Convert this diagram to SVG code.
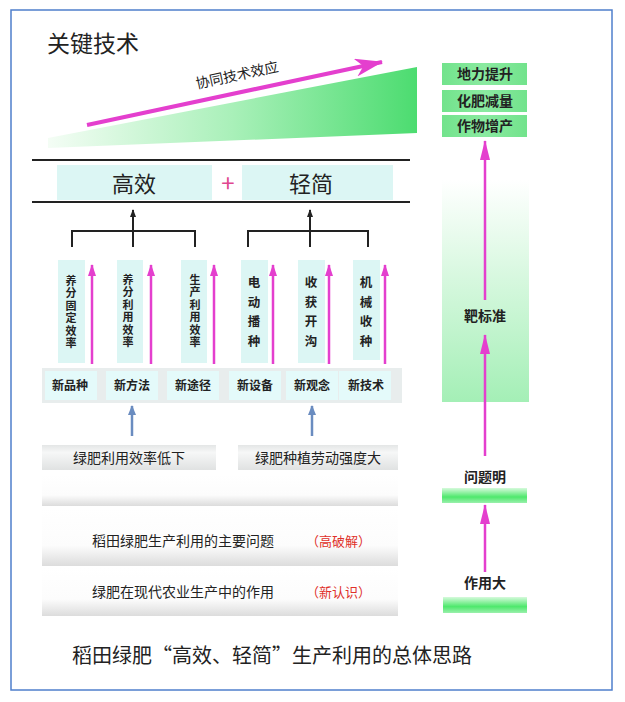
<svg xmlns="http://www.w3.org/2000/svg" width="625" height="702" viewBox="0 0 625 702">
<style>
text{font-family:"Noto Sans CJK SC","Noto Sans",sans-serif;fill:#222}
.big{font-size:22px}
.lbl{font-size:12px;font-weight:bold;text-anchor:middle}
.vt{font-family:"Liberation Sans","Noto Sans CJK SC",sans-serif;font-size:11px;font-weight:bold;text-anchor:middle}
.vt4{font-size:12.5px;font-weight:bold;text-anchor:middle}
.mid{font-size:14px;text-anchor:middle}
.rt{font-size:14px;font-weight:bold;text-anchor:middle}
.red{font-size:13px;fill:#e0302a}
.cy{fill:#dcf6f4}
.cell{fill:#e4fafa}
.mg{stroke:#e43fce;stroke-width:2.5;fill:none}
.blk{stroke:#222;stroke-width:2;fill:none}
.bl{stroke:#6a8cc0;stroke-width:2.5;fill:none}
</style>
<defs>
<linearGradient id="wedge" x1="0" y1="0" x2="1" y2="0">
<stop offset="0" stop-color="#f4fdf5"/>
<stop offset="0.5" stop-color="#a9f0b9"/>
<stop offset="1" stop-color="#4cdc70"/>
</linearGradient>
<linearGradient id="band" x1="0" y1="0" x2="0" y2="1">
<stop offset="0" stop-color="#ffffff"/>
<stop offset="0.65" stop-color="#fcfcfc"/>
<stop offset="1" stop-color="#dcdcdc"/>
</linearGradient>
<linearGradient id="gbox" x1="0" y1="0" x2="0" y2="1">
<stop offset="0" stop-color="#e4e6e6"/>
<stop offset="0.3" stop-color="#f6f7f7"/>
<stop offset="1" stop-color="#e0e2e2"/>
</linearGradient>
<linearGradient id="target" x1="0" y1="0" x2="0" y2="1">
<stop offset="0" stop-color="#ffffff"/>
<stop offset="1" stop-color="#a4efb6"/>
</linearGradient>
<linearGradient id="bar" x1="0" y1="0" x2="0" y2="1">
<stop offset="0" stop-color="#d6fadc"/>
<stop offset="0.6" stop-color="#4ee86c"/>
<stop offset="1" stop-color="#9af0ac"/>
</linearGradient>
<linearGradient id="res" x1="0" y1="0" x2="1" y2="0">
<stop offset="0" stop-color="#72e38c"/>
<stop offset="0.5" stop-color="#8aeaa0"/>
<stop offset="1" stop-color="#72e38c"/>
</linearGradient>
<marker id="amg" viewBox="0 0 12 8" refX="11" refY="4" markerWidth="12" markerHeight="8" markerUnits="userSpaceOnUse" orient="auto"><path d="M0,0 L12,4 L0,8 z" fill="#e43fce"/></marker>
<marker id="amgL" viewBox="0 0 20 10" refX="19" refY="5" markerWidth="20" markerHeight="10" markerUnits="userSpaceOnUse" orient="auto"><path d="M0,0 L20,5 L0,10 z" fill="#e43fce"/></marker>
<marker id="amgX" viewBox="0 0 28 18" refX="27" refY="9" markerWidth="28" markerHeight="18" markerUnits="userSpaceOnUse" orient="auto"><path d="M0,0 L28,9 L0,18 L8,9 z" fill="#e43fce"/></marker>
<marker id="ablk" viewBox="0 0 8 6" refX="7" refY="3" markerWidth="8" markerHeight="6" markerUnits="userSpaceOnUse" orient="auto"><path d="M0,0 L8,3 L0,6 z" fill="#222"/></marker>
<marker id="abl" viewBox="0 0 10 8" refX="9" refY="4" markerWidth="10" markerHeight="8" markerUnits="userSpaceOnUse" orient="auto"><path d="M0,0 L10,4 L0,8 z" fill="#6a8cc0"/></marker>
</defs>
<rect x="0" y="0" width="625" height="702" fill="#ffffff"/>
<rect x="11" y="10" width="601" height="680" fill="none" stroke="#4f7fcc" stroke-width="1.5"/>

<g id="title"><text x="47" y="52" font-size="23">关键技术</text></g>

<g id="synergy">
<polygon points="48,138 417,67 417,133 48,148" fill="url(#wedge)"/>
<text class="mid" font-size="14" transform="translate(238,80) rotate(-12)" text-anchor="middle">协同技术效应</text>
</g>

<g id="header">
<line x1="32" y1="160" x2="410" y2="160" stroke="#222" stroke-width="2"/>
<line x1="32" y1="202" x2="410" y2="202" stroke="#222" stroke-width="2"/>
<rect x="57" y="165" width="155" height="35" class="cy"/>
<text x="134" y="192" class="big" text-anchor="middle">高效</text>
<text x="228" y="192" font-size="24" text-anchor="middle" style="fill:#e0478f">+</text>
<rect x="242" y="165" width="151" height="35" class="cy"/>
<text x="311" y="192" class="big" text-anchor="middle">轻简</text>
</g>

<g id="v1"><rect x="58" y="260" width="27" height="103" class="cy"/>
<text class="vt" x="71"><tspan x="71" y="285">养</tspan><tspan x="71" y="297.4">分</tspan><tspan x="71" y="309.8">固</tspan><tspan x="71" y="322.2">定</tspan><tspan x="71" y="334.6">效</tspan><tspan x="71" y="347">率</tspan></text></g>
<g id="v2"><rect x="117" y="260" width="26" height="103" class="cy"/>
<text class="vt" x="128"><tspan x="128" y="284">养</tspan><tspan x="128" y="296.4">分</tspan><tspan x="128" y="308.8">利</tspan><tspan x="128" y="321.2">用</tspan><tspan x="128" y="333.6">效</tspan><tspan x="128" y="346">率</tspan></text></g>
<g id="v3"><rect x="181" y="260" width="26" height="103" class="cy"/>
<text class="vt" x="195"><tspan x="195" y="284">生</tspan><tspan x="195" y="296.4">产</tspan><tspan x="195" y="308.8">利</tspan><tspan x="195" y="321.2">用</tspan><tspan x="195" y="333.6">效</tspan><tspan x="195" y="346">率</tspan></text></g>
<g id="v4"><rect x="241" y="260" width="27" height="103" class="cy"/>
<text class="vt4" x="254"><tspan x="254" y="287">电</tspan><tspan x="254" y="306.5">动</tspan><tspan x="254" y="326">播</tspan><tspan x="254" y="345.5">种</tspan></text></g>
<g id="v5"><rect x="298" y="260" width="27" height="103" class="cy"/>
<text class="vt4" x="311"><tspan x="311" y="287">收</tspan><tspan x="311" y="306.5">获</tspan><tspan x="311" y="326">开</tspan><tspan x="311" y="345.5">沟</tspan></text></g>
<g id="v6"><rect x="353" y="260" width="27" height="100" class="cy"/>
<text class="vt4" x="366"><tspan x="366" y="287">机</tspan><tspan x="366" y="306.5">械</tspan><tspan x="366" y="326">收</tspan><tspan x="366" y="345.5">种</tspan></text></g>

<g id="newrow">
<rect x="42" y="368" width="360" height="35" fill="#e8eded"/>
<rect x="45" y="371" width="52" height="29" class="cell"/>
<rect x="106" y="371" width="52" height="29" class="cell"/>
<rect x="167" y="371" width="52" height="29" class="cell"/>
<rect x="229" y="371" width="52" height="29" class="cell"/>
<rect x="286" y="371" width="52" height="29" class="cell"/>
<rect x="339" y="371" width="52" height="29" class="cell"/>
<text x="70" y="390" class="lbl">新品种</text>
<text x="132" y="390" class="lbl">新方法</text>
<text x="193" y="390" class="lbl">新途径</text>
<text x="255" y="390" class="lbl">新设备</text>
<text x="312" y="390" class="lbl">新观念</text>
<text x="366" y="390" class="lbl">新技术</text>
</g>

<g id="p1"><rect x="42" y="445" width="174" height="25" fill="url(#gbox)"/>
<text x="129" y="463" class="mid">绿肥利用效率低下</text></g>
<g id="p2"><rect x="238" y="445" width="160" height="25" fill="url(#gbox)"/>
<text x="318" y="463" class="mid">绿肥种植劳动强度大</text></g>

<g id="bandA"><rect x="42" y="475" width="356" height="31" fill="url(#band)"/></g>
<g id="bandB"><rect x="42" y="508" width="356" height="58" fill="url(#band)"/>
<text x="92" y="546" font-size="14">稻田绿肥生产利用的主要问题</text>
<text x="306" y="546" class="red">（高破解）</text></g>
<g id="bandC"><rect x="42" y="568" width="356" height="48" fill="url(#band)"/>
<text x="92" y="597" font-size="14">绿肥在现代农业生产中的作用</text>
<text x="306" y="597" class="red">（新认识）</text></g>

<g id="r1"><rect x="442" y="63" width="85" height="22" fill="url(#res)"/><text x="485" y="79" class="rt">地力提升</text></g>
<g id="r2"><rect x="442" y="90" width="85" height="22" fill="url(#res)"/><text x="485" y="106" class="rt">化肥减量</text></g>
<g id="r3"><rect x="442" y="115" width="85" height="22" fill="url(#res)"/><text x="485" y="131" class="rt">作物增产</text></g>
<g id="target"><rect x="442" y="180" width="87" height="222" fill="url(#target)"/><text x="485" y="321" class="rt">靶标准</text></g>
<g id="clear"><text x="485" y="482" class="rt">问题明</text><rect x="442" y="488" width="85" height="15" fill="url(#bar)"/></g>
<g id="big"><text x="485" y="588" class="rt">作用大</text><rect x="443" y="597" width="84" height="16" fill="url(#bar)"/></g>

<g id="caption"><text x="72" y="663" font-size="20">稻田绿肥“高效、轻简”生产利用的总体思路</text></g>

<g id="connectors">
<line x1="87" y1="125" x2="382" y2="62" stroke="#e43fce" stroke-width="4" marker-end="url(#amgX)"/>
<polyline points="72,247 72,231 195,231 195,247" class="blk"/>
<line x1="133" y1="247" x2="133" y2="210" class="blk" marker-end="url(#ablk)"/>
<polyline points="248,247 248,231 368,231 368,247" class="blk"/>
<line x1="310" y1="247" x2="310" y2="210" class="blk" marker-end="url(#ablk)"/>
<line x1="92" y1="364" x2="92" y2="265" class="mg" marker-end="url(#amg)"/>
<line x1="151" y1="364" x2="151" y2="265" class="mg" marker-end="url(#amg)"/>
<line x1="214" y1="364" x2="214" y2="265" class="mg" marker-end="url(#amg)"/>
<line x1="273" y1="364" x2="273" y2="265" class="mg" marker-end="url(#amg)"/>
<line x1="329" y1="364" x2="329" y2="265" class="mg" marker-end="url(#amg)"/>
<line x1="385" y1="364" x2="385" y2="265" class="mg" marker-end="url(#amg)"/>
<line x1="132" y1="436" x2="132" y2="406" class="bl" marker-end="url(#abl)"/>
<line x1="312" y1="436" x2="312" y2="406" class="bl" marker-end="url(#abl)"/>
<line x1="485" y1="300" x2="485" y2="141" class="mg" marker-end="url(#amgL)"/>
<line x1="485" y1="456" x2="485" y2="335" class="mg" marker-end="url(#amgL)"/>
<line x1="485" y1="572" x2="485" y2="505" class="mg" marker-end="url(#amgL)"/>
</g>
</svg>
